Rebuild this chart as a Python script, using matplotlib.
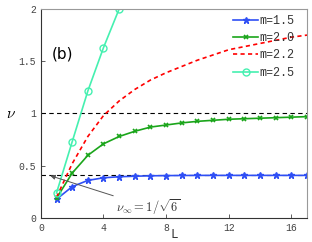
import numpy as np
import matplotlib.pyplot as plt

plt.rcParams['mathtext.fontset'] = 'cm'

# данные
L = np.arange(1, 18)
nu_15 = [0.18, 0.30, 0.36, 0.385, 0.395, 0.40, 0.404, 0.406, 0.407, 0.408,
         0.408, 0.408, 0.408, 0.408, 0.408, 0.408, 0.408]
nu_20 = [0.19, 0.43, 0.60, 0.71, 0.78, 0.83, 0.87, 0.89, 0.91, 0.925,
         0.935, 0.945, 0.95, 0.955, 0.96, 0.965, 0.97]
nu_22 = [0.20, 0.52, 0.78, 0.98, 1.12, 1.23, 1.32, 1.39, 1.45, 1.51,
         1.56, 1.61, 1.64, 1.67, 1.70, 1.73, 1.75]
L_25 = [1, 2, 3, 4, 5]
nu_25 = [0.24, 0.73, 1.215, 1.63, 2.0]
nu_inf = 1 / np.sqrt(6)

mono = 'Liberation Mono'

fig = plt.figure(figsize=(3.12, 2.42), dpi=100)
ax = fig.add_axes([0.131, 0.099, 0.853, 0.864])

ax.axhline(1.0, color='black', linestyle='--', linewidth=0.8, dashes=(4, 3))
ax.axhline(nu_inf, color='black', linestyle='--', linewidth=0.8, dashes=(4, 3))

ax.plot(L, nu_15, color='#2f4ff5', marker='*', markersize=5, linewidth=1.2, label='m=1.5')
ax.plot(L, nu_20, color='#1aa51a', marker='x', markersize=3.5, markeredgewidth=1.2,
        linewidth=1.2, label='m=2.0')
ax.plot(L, nu_22, color='red', linestyle='--', dashes=(2.5, 2), linewidth=1.2, label='m=2.2')
ax.plot(L_25, nu_25, color='#45f0b0', marker='o', markersize=5, markerfacecolor='none',
        linewidth=1.2, label='m=2.5')

ax.annotate(r'$\nu_\infty = 1/\sqrt{6}$', xy=(0.6, 0.405), xytext=(4.8, 0.06),
            fontsize=9, color='#333333',
            arrowprops=dict(arrowstyle='-|>', color='#555555', lw=0.7,
                            shrinkA=0, shrinkB=0, mutation_scale=7))

ax.text(1.35, 1.57, '(b)', fontsize=11, ha='center', va='center')

ax.set_xlim(0, 17)
ax.set_ylim(0, 2)
ax.set_xticks([0, 4, 8, 12, 16])
ax.set_yticks([0, 0.5, 1, 1.5, 2])
ax.set_yticklabels(['0', '0.5', '1', '1.5', '2'])
ax.tick_params(direction='in', labelsize=7, length=3, width=0.6, colors='#444444')
for lab in ax.get_xticklabels() + ax.get_yticklabels():
    lab.set_family(mono)
for side in ['top', 'right']:
    ax.spines[side].set_color('#999999')
for side in ['left', 'bottom']:
    ax.spines[side].set_color('#333333')

fig.text(174 / 312, 1 - 235 / 242, 'L', family=mono, fontsize=9, ha='center', va='center',
         color='#333333')
fig.text(11 / 312, 1 - 113 / 242, r'$\nu$', fontsize=11, ha='center', va='center')

leg = ax.legend(loc='upper right', bbox_to_anchor=(0.975, 1.0), frameon=False,
                prop={'family': mono, 'size': 8.5},
                handlelength=2.1, labelspacing=0.45, borderaxespad=0.1, handletextpad=0.1)
for t in leg.get_texts():
    t.set_color('#333333')

plt.savefig('out.png', dpi=100)
